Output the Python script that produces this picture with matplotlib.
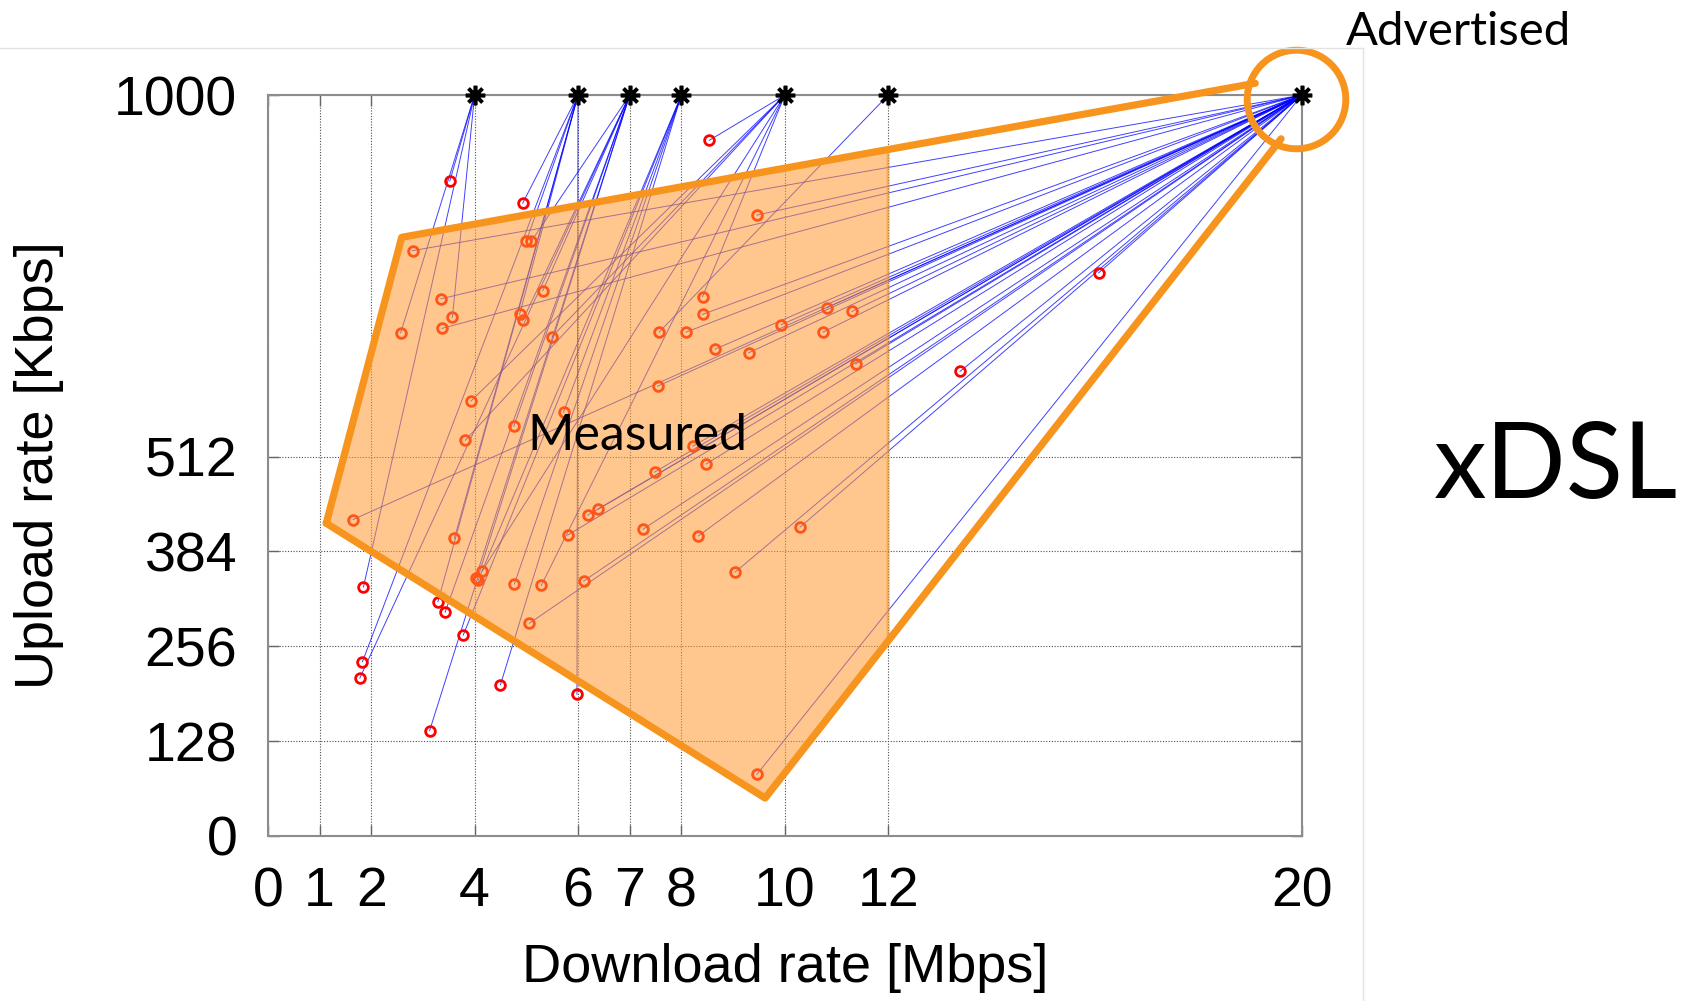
import numpy as np
import matplotlib
matplotlib.use('Agg')
import matplotlib.pyplot as plt
from matplotlib.patches import Polygon

plt.rcParams['font.family'] = ['Liberation Sans', 'DejaVu Sans']

# advertised plans (download Mbps), upload always 1000 Kbps
plans = [4, 6, 7, 8, 10, 12, 20]
adv_up = 1000

# measured download [Mbps], upload [Kbps], and the advertised download it belongs to
meas_down = [8.54, 3.52, 4.93, 9.46, 5.00, 5.10, 2.80, 5.32, 3.35, 8.41,
             3.57, 8.41, 4.87, 4.93, 10.81, 11.30, 2.57, 3.37, 5.50, 7.57,
             8.09, 9.93, 10.74, 8.65, 9.30, 11.37, 7.54, 3.93, 5.72, 4.76,
             3.82, 8.22, 8.48, 7.48, 1.65, 3.61, 6.19, 6.39, 5.80, 7.26,
             8.33, 10.30, 9.04, 4.15, 4.02, 4.07, 4.77, 5.29, 6.11, 5.06,
             1.85, 3.29, 3.43, 3.78, 1.83, 1.78, 4.50, 5.98, 3.13, 9.46,
             16.07, 13.39]
meas_up = [939, 884, 854, 838, 803, 803, 790, 736, 725, 728,
           700, 704, 704, 696, 713, 708, 679, 685, 674, 680,
           680, 690, 680, 657, 652, 637, 607, 587, 572, 553,
           534, 526, 502, 491, 427, 402, 433, 441, 406, 414,
           405, 417, 356, 358, 348, 345, 340, 338, 344, 287,
           336, 316, 302, 271, 235, 213, 204, 191, 142, 83,
           760, 627]
meas_plan = [10, 4, 6, 20, 6, 7, 20, 7, 20, 10,
             4, 20, 6, 7, 20, 20, 4, 20, 10, 12,
             20, 20, 20, 20, 20, 20, 20, 10, 8, 7,
             10, 20, 20, 20, 20, 6, 20, 20, 20, 20,
             20, 20, 20, 10, 7, 8, 8, 10, 20, 20,
             4, 6, 7, 8, 6, 7, 8, 6, 7, 20,
             20, 20]

# hand-drawn "Measured" region
fill_x = [1.13, 2.59, 12.0, 12.0, 9.62]
fill_y = [422, 808, 927, 262, 51]
top_x = [1.13, 2.59, 19.1]
top_y = [422, 808, 1016]
bot_x = [1.13, 9.62, 19.6]
bot_y = [422, 51, 941]

orange = '#F7941D'

fig = plt.figure(figsize=(16.95, 10.01), dpi=100)
ax = fig.add_axes([0.158, 0.165, 0.610, 0.740])

# lines from measured to advertised
for d, u, p in zip(meas_down, meas_up, meas_plan):
    ax.plot([d, p], [u, adv_up], color='#0000ff', lw=0.7, alpha=0.75, zorder=2)
ax.plot(meas_down, meas_up, 'o', color='#ff0000', ms=7, mfc='none', mew=2, zorder=3)

ax.add_patch(Polygon(np.column_stack([fill_x, fill_y]), closed=True,
                     facecolor='#FF9A30', alpha=0.55, edgecolor=orange, lw=2.2, zorder=4))
ax.plot(top_x, top_y, color=orange, lw=5.2, clip_on=False, zorder=5, solid_capstyle='round')
ax.plot(bot_x, bot_y, color=orange, lw=5.2, clip_on=False, zorder=5, solid_capstyle='round')

ax.plot(plans, [adv_up] * len(plans), linestyle='none', marker=(8, 2, 0), ms=14,
        mew=2.6, color='black', clip_on=False, zorder=6)
ax.plot([19.88], [995], 'o', ms=71, mfc='none', mec=orange, mew=5, clip_on=False, zorder=6)

ax.text(5.02, 540, 'Measured', family=['Lato', 'DejaVu Sans'], fontsize=36,
        ha='left', va='center', zorder=7)

ax.set_xlim(0, 20)
ax.set_ylim(0, 1000)
ax.set_xticks([0, 1, 2, 4, 6, 7, 8, 10, 12, 20])
ax.set_yticks([0, 128, 256, 384, 512, 1000])
ax.tick_params(direction='in', length=8, width=1, colors='0.4', labelcolor='black',
               labelsize=40, top=True, right=True, pad=22)
ax.grid(True, linestyle=(0, (1, 1.5)), color='0.3', lw=0.8, zorder=1)
for s in ax.spines.values():
    s.set_color('0.55')
    s.set_linewidth(1.5)
ax.set_xlabel('Download rate [Mbps]', fontsize=39, labelpad=18)
ax.set_ylabel('Upload rate [Kbps]', fontsize=39, labelpad=36)

# frame of the pasted chart
fig.add_artist(plt.Line2D([0, 0.804], [0.952, 0.952], color='#e2e2e2', lw=1))
fig.add_artist(plt.Line2D([0.804, 0.804], [0, 0.952], color='#e2e2e2', lw=1))

fig.text(0.794, 0.968, 'Advertised', family=['Lato', 'DejaVu Sans'], fontsize=34,
         ha='left', va='center')
fig.text(0.846, 0.532, 'xDSL', family=['Lato', 'DejaVu Sans'], fontsize=76,
         ha='left', va='center')

fig.savefig('out.png', dpi=100)
